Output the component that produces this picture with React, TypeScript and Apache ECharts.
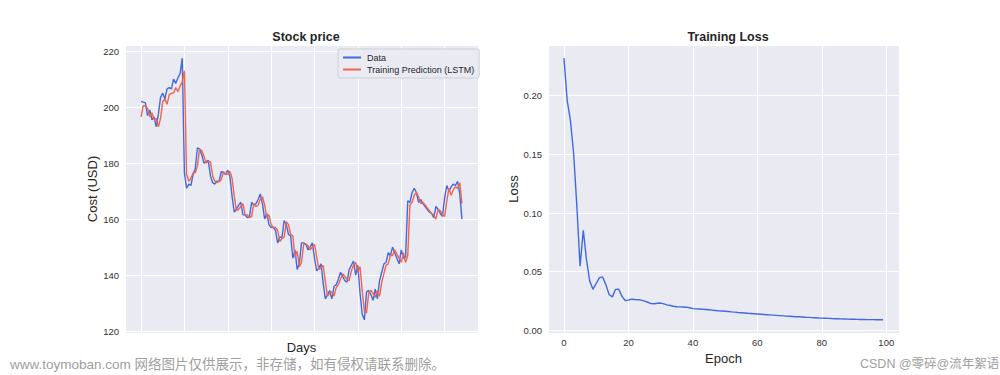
import React, { useEffect, useRef } from "react";
import * as echarts from "echarts";

const stockData: number[] = [
  202.0, 201.8, 201.5, 197.0, 199.0, 195.5, 196.5, 193.0, 197.5, 203.5,
  205.0, 203.0, 206.5, 207.0, 206.5, 210.0, 208.5, 210.5, 212.0, 217.5,
  176.5, 171.0, 172.5, 172.0, 176.0, 178.0, 185.5, 185.0, 183.0, 180.0,
  180.5, 181.0, 175.5, 173.0, 172.5, 173.5, 173.5, 177.0, 176.5, 176.0,
  177.5, 175.0, 168.0, 162.5, 163.5, 165.0, 166.0, 161.5, 161.5, 160.5,
  161.0, 166.0, 165.0, 165.5, 167.0, 169.0, 165.5, 160.0, 162.0, 158.0,
  157.0, 157.0, 156.0, 151.5, 153.5, 153.5, 159.5, 158.0, 154.5, 154.0,
  146.0, 149.0, 142.0, 144.0, 151.5, 151.5, 151.0, 149.0, 150.0, 151.5,
  146.0, 141.5, 142.5, 144.0, 137.0, 131.5, 133.0, 134.5, 131.5, 136.0,
  136.5, 138.5, 141.0, 139.5, 138.0, 137.5, 142.0, 143.5, 145.0, 140.0,
  143.5, 133.5, 126.0, 124.0, 134.0, 134.5, 133.0, 131.0, 135.0, 131.5,
  138.0, 141.0, 144.0, 144.5, 148.0, 147.0, 150.0, 148.0, 146.0, 144.0,
  149.0, 146.0, 146.5, 166.5, 166.0, 169.5, 171.0, 169.5, 166.0, 167.0,
  165.5, 164.5, 163.5, 162.5, 162.0, 160.5, 164.5, 163.5, 162.0, 161.0,
  167.5, 172.0, 170.0, 171.5, 172.5, 172.0, 173.5, 169.0, 160.0,
];

const predData: number[] = [
  196.5, 200.5, 200.5, 199.5, 196.5, 198.0, 195.5, 196.0, 193.0, 196.0,
  202.0, 203.0, 201.0, 204.5, 205.0, 205.0, 207.0, 205.5, 207.5, 209.0,
  213.0, 176.0, 173.5, 174.5, 176.5, 176.5, 179.0, 185.0, 184.5, 182.5,
  180.0, 180.5, 180.5, 175.5, 173.5, 173.0, 173.5, 174.0, 177.0, 176.0,
  176.0, 177.0, 174.5, 168.0, 163.0, 163.5, 164.5, 165.5, 161.5, 161.5,
  160.5, 161.0, 165.5, 164.5, 165.0, 167.0, 168.0, 165.0, 160.5, 161.5,
  158.0, 157.0, 157.0, 156.0, 152.0, 153.0, 153.5, 159.0, 158.0, 154.5,
  154.0, 146.5, 148.5, 143.0, 144.5, 151.0, 151.0, 150.5, 149.0, 150.0,
  151.0, 146.5, 142.0, 142.5, 143.5, 137.5, 132.5, 133.5, 134.0, 132.5,
  135.5, 136.5, 138.5, 140.5, 139.5, 138.5, 138.0, 141.5, 143.5, 144.5,
  141.0, 143.0, 134.5, 127.0, 126.5, 133.5, 134.5, 133.5, 132.0, 134.5,
  132.5, 137.5, 140.5, 143.5, 144.0, 147.0, 147.0, 149.0, 147.5, 146.0,
  144.5, 148.0, 144.5, 147.0, 165.0, 166.0, 168.5, 169.5, 168.0, 165.5,
  166.0, 165.0, 164.0, 163.0, 162.0, 161.5, 160.0, 163.5, 163.0, 161.5,
  161.0, 166.5, 171.0, 168.5, 170.5, 171.5, 171.0, 173.0, 165.5,
];

const lossData: number[] = [
  0.232, 0.196, 0.179, 0.151, 0.106, 0.0547, 0.0853, 0.060, 0.042, 0.035,
  0.040, 0.045, 0.0456, 0.039, 0.0306, 0.0286, 0.035, 0.0351, 0.029, 0.0255,
  0.0258, 0.0266, 0.0263, 0.0261, 0.0258, 0.025, 0.024, 0.0228, 0.0227, 0.0232,
  0.0233, 0.0226, 0.0218, 0.0212, 0.0206, 0.0202, 0.0201, 0.0200, 0.0198, 0.0193,
  0.0186, 0.0184, 0.0182, 0.0180, 0.0178, 0.0176, 0.0173, 0.0170, 0.0167, 0.0165,
  0.0163, 0.0161, 0.0158, 0.0156, 0.0153, 0.0151, 0.0149, 0.0146, 0.0144, 0.0142,
  0.0140, 0.0138, 0.0136, 0.0134, 0.0132, 0.0130, 0.0128, 0.0126, 0.0124, 0.0122,
  0.0121, 0.0119, 0.0117, 0.0116, 0.0114, 0.0112, 0.0111, 0.0109, 0.0108, 0.0106,
  0.0105, 0.0104, 0.0103, 0.0101, 0.0100, 0.0099, 0.0098, 0.0097, 0.0096, 0.0095,
  0.0095, 0.0094, 0.0093, 0.0093, 0.0092, 0.0092, 0.0092, 0.0091, 0.0091, 0.0091,
];

const seriesNames = ["Data", "Training Prediction (LSTM)"];
const titles = ["Stock price", "Training Loss"];
const watermarkLeft = "www.toymoban.com 网络图片仅供展示，非存储，如有侵权请联系删除。";
const watermarkRight = "CSDN @零碎@流年絮语";

const FONT = "'Liberation Sans', Arial, 'Noto Sans CJK SC', sans-serif";
const BG = "#EAEAF2";
const BLUE = "#4169E1";
const RED = "#F0644E";
const TXT = "#262626";

export default function App() {
  const ref = useRef<HTMLDivElement>(null);

  useEffect(() => {
    if (!ref.current) return;
    const chart = echarts.init(ref.current, undefined, { renderer: "svg" });

    const splitLine = { show: true, lineStyle: { color: "#ffffff", width: 1 } };
    const axisCommon = {
      axisLine: { show: false },
      axisTick: { show: false },
      splitLine,
      nameLocation: "middle" as const,
      nameTextStyle: { fontSize: 13, color: TXT, fontFamily: FONT },
    };
    const labelStyle = { fontSize: 9.5, color: "#333", fontFamily: FONT, showMinLabel: false, showMaxLabel: false };

    const n = stockData.length;
    const xPad = (n - 1) * 0.05;

    const option: any = {
      animation: false,
      backgroundColor: "#ffffff",
      textStyle: { fontFamily: FONT },
      title: [
        { text: titles[0], left: 301, top: 26, textAlign: "center", textStyle: { fontSize: 12.5, fontWeight: "bold", color: TXT, fontFamily: FONT } },
        { text: titles[1], left: 723, top: 26, textAlign: "center", textStyle: { fontSize: 12.5, fontWeight: "bold", color: TXT, fontFamily: FONT } },
      ],
      grid: [
        { left: 125, top: 45, width: 353, height: 288, show: true, backgroundColor: BG, borderWidth: 0 },
        { left: 548, top: 45, width: 351, height: 288, show: true, backgroundColor: BG, borderWidth: 0 },
      ],
      legend: {
        data: seriesNames,
        orient: "vertical",
        left: 338,
        top: 49,
        padding: [4, 5, 4, 5],
        itemGap: 3,
        itemWidth: 18,
        itemHeight: 2,
        icon: "rect",
        backgroundColor: BG,
        borderColor: "#cfcfd6",
        borderWidth: 1,
        borderRadius: 2,
        textStyle: { fontSize: 9, color: TXT, fontFamily: FONT, padding: [0, 0, 0, 1] },
      },
      xAxis: [
        {
          ...axisCommon,
          gridIndex: 0,
          type: "value",
          min: -xPad,
          max: n - 1 + xPad,
          minInterval: 20,
          maxInterval: 20,
          name: "Days",
          nameGap: 8,
          axisLabel: { show: false },
        },
        {
          ...axisCommon,
          gridIndex: 1,
          type: "value",
          min: -4.95,
          max: 103.95,
          minInterval: 20,
          maxInterval: 20,
          name: "Epoch",
          nameGap: 12,
          axisLabel: { ...labelStyle, margin: 5 },
        },
      ],
      yAxis: [
        {
          ...axisCommon,
          gridIndex: 0,
          type: "value",
          min: 119.3,
          max: 222.2,
          minInterval: 20,
          maxInterval: 20,
          name: "Cost (USD)",
          nameGap: 25,
          axisLabel: { ...labelStyle, margin: 6 },
        },
        {
          ...axisCommon,
          gridIndex: 1,
          type: "value",
          min: -0.0022,
          max: 0.2432,
          minInterval: 0.05,
          maxInterval: 0.05,
          name: "Loss",
          nameGap: 27,
          axisLabel: { ...labelStyle, margin: 6, formatter: (v: number) => v.toFixed(2) },
        },
      ],
      series: [
        {
          name: seriesNames[0],
          type: "line",
          xAxisIndex: 0,
          yAxisIndex: 0,
          data: stockData.map((v, i) => [i, v]),
          showSymbol: false,
          lineStyle: { color: BLUE, width: 1.4 },
          itemStyle: { color: BLUE },
        },
        {
          name: seriesNames[1],
          type: "line",
          xAxisIndex: 0,
          yAxisIndex: 0,
          data: predData.map((v, i) => [i, v]),
          showSymbol: false,
          lineStyle: { color: RED, width: 1.4 },
          itemStyle: { color: RED },
        },
        {
          name: "Loss",
          type: "line",
          xAxisIndex: 1,
          yAxisIndex: 1,
          data: lossData.map((v, i) => [i, v]),
          showSymbol: false,
          lineStyle: { color: BLUE, width: 1.4 },
          itemStyle: { color: BLUE },
        },
      ],
      graphic: [
        {
          type: "text",
          left: 10,
          top: 358,
          style: { text: watermarkLeft, fontSize: 13.5, fill: "#a0a0a0", fontFamily: FONT },
        },
        {
          type: "text",
          left: 860,
          top: 358,
          style: { text: watermarkRight, fontSize: 12.5, fill: "#a0a0a0", fontFamily: FONT },
        },
      ],
    };

    chart.setOption(option);
    return () => chart.dispose();
  }, []);

  return (
    <div
      ref={ref}
      style={{ position: "fixed", left: 0, top: 0, width: 1000, height: 375 }}
    />
  );
}
